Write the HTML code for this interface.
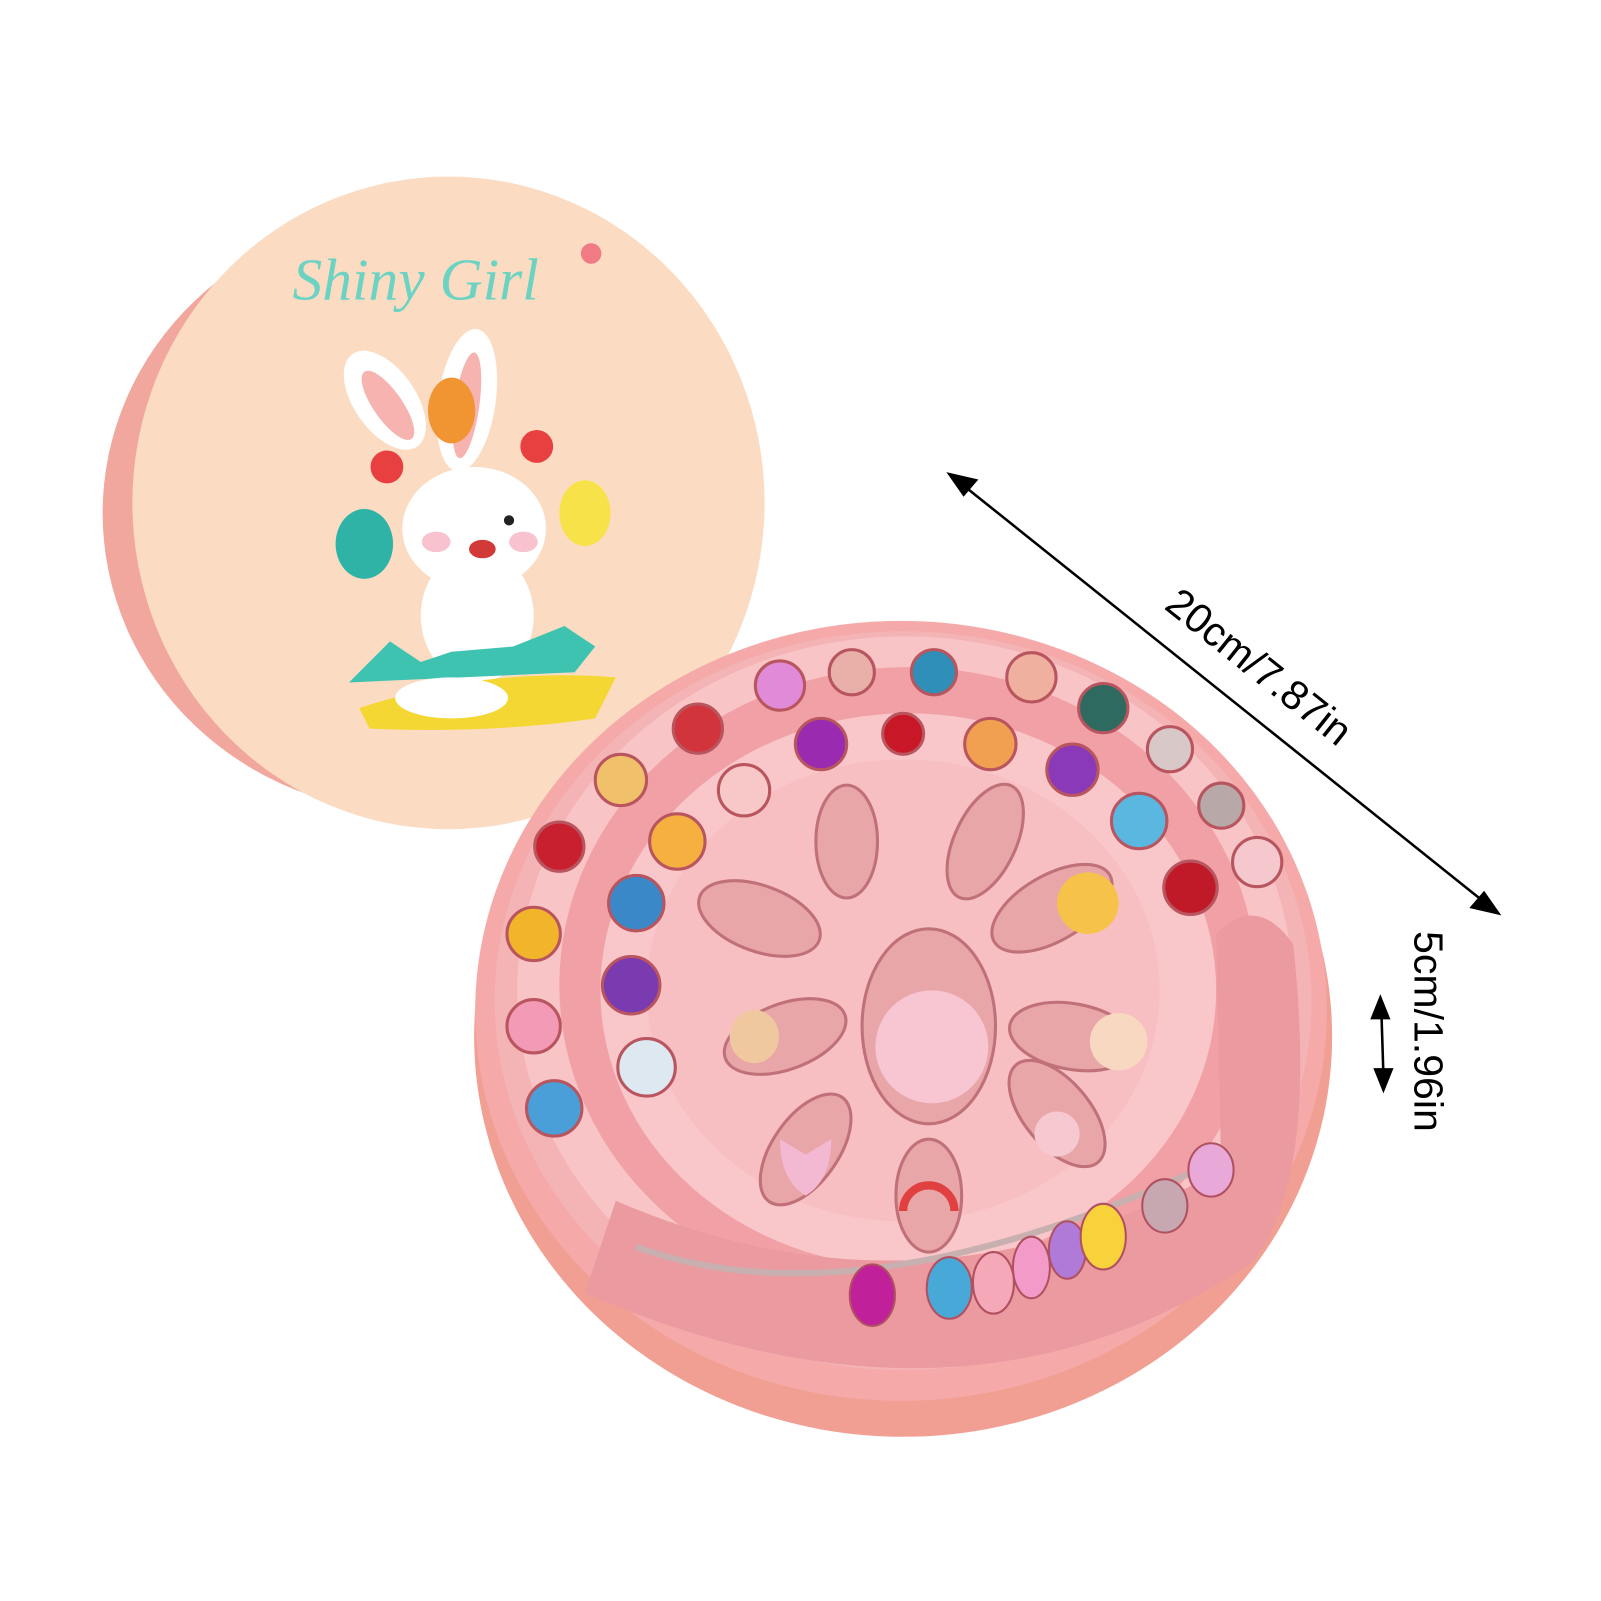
<!DOCTYPE html>
<html><head><meta charset="utf-8"><style>html,body{margin:0;padding:0;background:#fff}svg{display:block}</style></head>
<body>
<svg width="1601" height="1601" viewBox="0 0 1560 1560" xmlns="http://www.w3.org/2000/svg">
<rect width="1560" height="1560" fill="#fff"/>
<!-- LID -->
<ellipse cx="405" cy="500" rx="305" ry="292" fill="#f2a79e"/>
<ellipse cx="437" cy="490" rx="308" ry="318" fill="#fbdcc3"/>
<text x="285" y="292" font-family="Liberation Serif, serif" font-style="italic" font-size="58" fill="#6cd3c3">Shiny Girl</text>
<circle cx="576" cy="247" r="10" fill="#f07b84"/>
<!-- bunny -->
<ellipse cx="375" cy="390" rx="30" ry="55" transform="rotate(-35 375 390)" fill="#fff"/>
<ellipse cx="378" cy="395" rx="14" ry="40" transform="rotate(-35 378 395)" fill="#f7b3b0"/>
<ellipse cx="455" cy="390" rx="28" ry="70" transform="rotate(8 455 390)" fill="#fff"/>
<ellipse cx="455" cy="395" rx="12" ry="52" transform="rotate(8 455 395)" fill="#f7b3b0"/>
<ellipse cx="462" cy="515" rx="70" ry="60" fill="#fff"/>
<ellipse cx="465" cy="600" rx="55" ry="65" fill="#fff"/>
<ellipse cx="425" cy="528" rx="14" ry="10" fill="#f9c2cf"/>
<ellipse cx="510" cy="528" rx="14" ry="10" fill="#f9c2cf"/>
<ellipse cx="470" cy="535" rx="13" ry="9" fill="#d23a3a"/>
<circle cx="496" cy="507" r="5" fill="#222"/>
<ellipse cx="440" cy="400" rx="23" ry="32" fill="#f19533"/>
<ellipse cx="355" cy="530" rx="28" ry="34" fill="#2fb3a6"/>
<ellipse cx="570" cy="500" rx="25" ry="32" fill="#f7e24a"/>
<circle cx="377" cy="455" r="16" fill="#e84040"/>
<circle cx="523" cy="435" r="16" fill="#e84040"/>
<path d="M340 665 l40 -40 l30 20 l30 -10 l60 -5 l50 -20 l30 20 l-20 25 z" fill="#3fc3b1"/>
<path d="M350 690 q120 -40 250 -30 l-20 40 q-100 15 -220 10 z" fill="#f5d733"/>
<ellipse cx="440" cy="680" rx="55" ry="20" fill="#fff"/>
<!-- BOX -->
<ellipse cx="880" cy="1010" rx="418" ry="390" fill="#f29f93"/>
<ellipse cx="878" cy="985" rx="415" ry="380" fill="#f5a9a9"/>
<ellipse cx="880" cy="975" rx="398" ry="360" fill="#f4b3b5"/>
<ellipse cx="882" cy="965" rx="378" ry="345" fill="#f9c4c6"/>
<ellipse cx="885" cy="960" rx="340" ry="310" fill="#f1a1a6"/>
<ellipse cx="885" cy="965" rx="300" ry="270" fill="#f9c7ca"/>
<ellipse cx="880" cy="965" rx="250" ry="225" fill="#f8bfc3"/>
<!-- bracelet channel -->
<path d="M600 1170 q300 130 590 -30 l-5 -230 q40 -40 75 10 q25 230 -40 310 q-280 190 -650 30 z" fill="#eb9a9f"/>
<!-- beads outer -->
<g stroke="#b8555e" stroke-width="3">
<circle cx="545" cy="825" r="24" fill="#c8202e"/>
<circle cx="520" cy="910" r="26" fill="#f2b42a"/>
<circle cx="520" cy="1000" r="26" fill="#f29ab6"/>
<circle cx="540" cy="1080" r="27" fill="#4a9fd8"/>
<circle cx="605" cy="760" r="25" fill="#f0c06a"/>
<circle cx="680" cy="710" r="24" fill="#d2343c"/>
<circle cx="760" cy="668" r="24" fill="#e08ad8"/>
<circle cx="830" cy="655" r="22" fill="#e8b0a8"/>
<circle cx="910" cy="655" r="22" fill="#2f8fb8"/>
<circle cx="1005" cy="660" r="24" fill="#f0b0a0"/>
<circle cx="1075" cy="690" r="24" fill="#2f6a60"/>
<circle cx="1140" cy="730" r="22" fill="#d8c8c8"/>
<circle cx="1190" cy="785" r="22" fill="#b8a8a8"/>
<circle cx="1225" cy="840" r="24" fill="#f4c8cc"/>
<circle cx="1160" cy="865" r="26" fill="#c01a28"/>
<circle cx="1110" cy="800" r="27" fill="#5ab8e0"/>
<circle cx="660" cy="820" r="27" fill="#f5b040"/>
<circle cx="620" cy="880" r="27" fill="#3a88c8"/>
<circle cx="615" cy="960" r="28" fill="#7a3ab0"/>
<circle cx="630" cy="1040" r="28" fill="#dde8f0"/>
<circle cx="725" cy="770" r="25" fill="#f8c8c8"/>
<circle cx="800" cy="725" r="25" fill="#9a2ab0"/>
<circle cx="880" cy="715" r="20" fill="#c81828"/>
<circle cx="965" cy="725" r="25" fill="#f0a050"/>
<circle cx="1045" cy="750" r="25" fill="#8a3ab8"/>
</g>
<!-- charms -->
<g fill="#e9a6a8" stroke="#c07078" stroke-width="3">
<ellipse cx="825" cy="820" rx="30" ry="55"/>
<ellipse cx="960" cy="820" rx="30" ry="60" transform="rotate(25 960 820)"/>
<ellipse cx="1025" cy="885" rx="32" ry="65" transform="rotate(60 1025 885)"/>
<ellipse cx="740" cy="895" rx="32" ry="62" transform="rotate(-70 740 895)"/>
<ellipse cx="765" cy="1010" rx="32" ry="62" transform="rotate(-110 765 1010)"/>
<ellipse cx="1045" cy="1010" rx="32" ry="62" transform="rotate(100 1045 1010)"/>
<ellipse cx="785" cy="1120" rx="32" ry="62" transform="rotate(-145 785 1120)"/>
<ellipse cx="1030" cy="1085" rx="32" ry="62" transform="rotate(140 1030 1085)"/>
<ellipse cx="905" cy="1165" rx="32" ry="55"/>
<ellipse cx="905" cy="1000" rx="65" ry="95"/>
</g>
<circle cx="1060" cy="880" r="30" fill="#f6c24a"/>
<circle cx="1090" cy="1015" r="28" fill="#f8d8c0"/>
<circle cx="908" cy="1020" r="55" fill="#f7c6d2"/>
<ellipse cx="735" cy="1010" rx="24" ry="26" fill="#f0c8a0"/>
<path d="M760 1110 l25 15 l25 -15 q0 40 -25 55 q-25 -15 -25 -55z" fill="#f3b8d2"/>
<circle cx="1030" cy="1105" r="22" fill="#f6c8d0"/>
<path d="M880 1180 a25 25 0 0 1 50 0" fill="none" stroke="#e04040" stroke-width="8"/>
<!-- bracelet beads -->
<path d="M620 1215 q220 80 580 -90" fill="none" stroke="#c8b0b0" stroke-width="6"/>
<g stroke="#b05060" stroke-width="2">
<ellipse cx="850" cy="1262" rx="22" ry="30" fill="#c0209a"/>
<ellipse cx="925" cy="1255" rx="22" ry="30" fill="#48a8d8"/>
<ellipse cx="968" cy="1250" rx="20" ry="30" fill="#f4a8b8"/>
<ellipse cx="1005" cy="1235" rx="18" ry="30" fill="#f29ac8"/>
<ellipse cx="1040" cy="1218" rx="18" ry="28" fill="#b07ad8"/>
<ellipse cx="1075" cy="1205" rx="22" ry="32" fill="#f7d23a"/>
<ellipse cx="1135" cy="1175" rx="22" ry="26" fill="#c8a8b0"/>
<ellipse cx="1180" cy="1140" rx="22" ry="26" fill="#e8a8d8"/>
</g>
<!-- dimension arrows -->
<g stroke="#000" stroke-width="2.5" fill="#000">
<line x1="935" y1="470" x2="1450" y2="882"/>
<path d="M925 462 l26 6 l-12 14 z"/>
<path d="M1460 890 l-26 -6 l12 -14 z"/>
<line x1="1346" y1="985" x2="1348" y2="1048"/>
<path d="M1345 972 l-8 20 l16 0 z"/>
<path d="M1348 1062 l-8 -20 l16 0 z"/>
</g>
<text x="0" y="0" transform="translate(1225 652) rotate(38.6)" text-anchor="middle" dominant-baseline="middle" font-family="Liberation Sans, sans-serif" font-size="40" fill="#000">20cm/7.87in</text>
<text x="0" y="0" transform="translate(1389 1005) rotate(90)" text-anchor="middle" dominant-baseline="middle" font-family="Liberation Sans, sans-serif" font-size="40" fill="#000">5cm/1.96in</text>
</svg>
</body></html>
